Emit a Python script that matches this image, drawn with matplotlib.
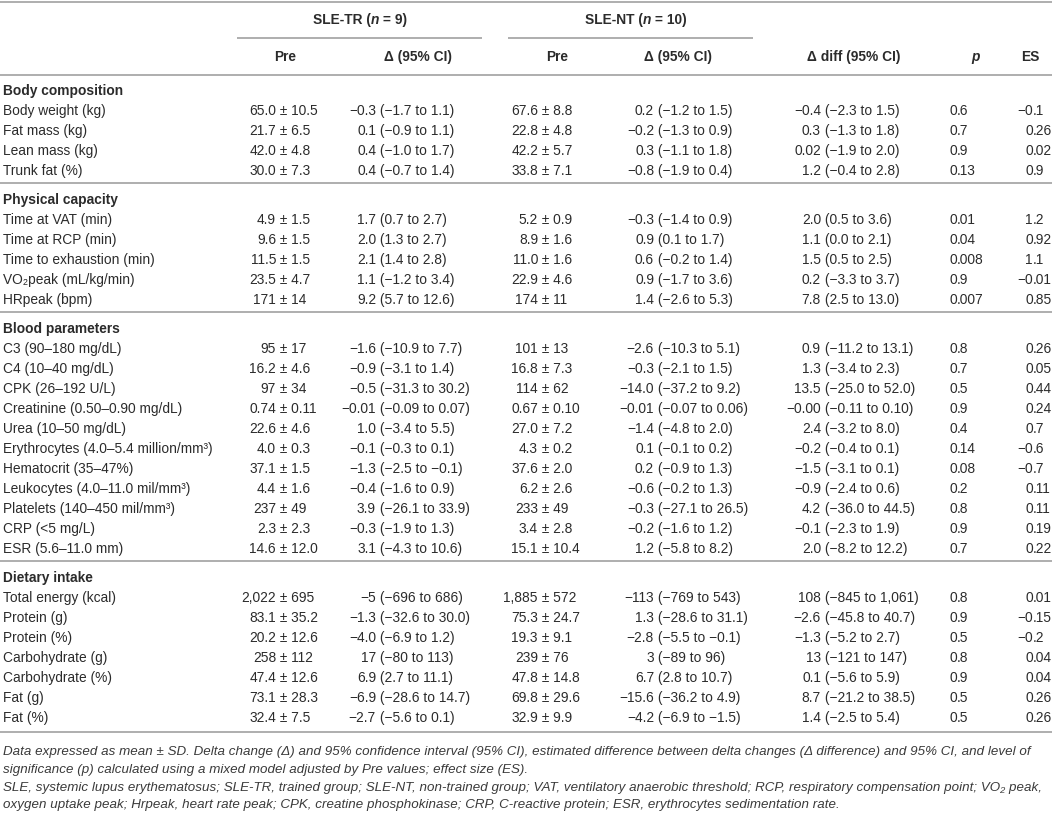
import matplotlib
matplotlib.use("Agg")
import matplotlib.pyplot as plt

plt.rcParams['font.family'] = ['Liberation Sans', 'DejaVu Sans']

# table content
section_names = ["Body composition", "Physical capacity", "Blood parameters", "Dietary intake"]
section_sizes = [4, 5, 11, 7]

labels = [
    "Body weight (kg)", "Fat mass (kg)", "Lean mass (kg)", "Trunk fat (%)",
    "Time at VAT (min)", "Time at RCP (min)", "Time to exhaustion (min)",
    "VO\u2082peak (mL/kg/min)", "HRpeak (bpm)",
    "C3 (90\u2013180 mg/dL)", "C4 (10\u201340 mg/dL)", "CPK (26\u2013192 U/L)",
    "Creatinine (0.50\u20130.90 mg/dL)", "Urea (10\u201350 mg/dL)",
    "Erythrocytes (4.0\u20135.4 million/mm\u00b3)", "Hematocrit (35\u201347%)",
    "Leukocytes (4.0\u201311.0 mil/mm\u00b3)", "Platelets (140\u2013450 mil/mm\u00b3)",
    "CRP (<5 mg/L)", "ESR (5.6\u201311.0 mm)",
    "Total energy (kcal)", "Protein (g)", "Protein (%)", "Carbohydrate (g)",
    "Carbohydrate (%)", "Fat (g)", "Fat (%)",
]

pre_tr = [
    "65.0 ± 10.5", "21.7 ± 6.5", "42.0 ± 4.8", "30.0 ± 7.3",
    "4.9 ± 1.5", "9.6 ± 1.5", "11.5 ± 1.5", "23.5 ± 4.7", "171 ± 14",
    "95 ± 17", "16.2 ± 4.6", "97 ± 34", "0.74 ± 0.11", "22.6 ± 4.6", "4.0 ± 0.3",
    "37.1 ± 1.5", "4.4 ± 1.6", "237 ± 49", "2.3 ± 2.3", "14.6 ± 12.0",
    "2,022 ± 695", "83.1 ± 35.2", "20.2 ± 12.6", "258 ± 112", "47.4 ± 12.6",
    "73.1 ± 28.3", "32.4 ± 7.5",
]

delta_tr = [
    "−0.3 (−1.7 to 1.1)", "0.1 (−0.9 to 1.1)", "0.4 (−1.0 to 1.7)", "0.4 (−0.7 to 1.4)",
    "1.7 (0.7 to 2.7)", "2.0 (1.3 to 2.7)", "2.1 (1.4 to 2.8)", "1.1 (−1.2 to 3.4)",
    "9.2 (5.7 to 12.6)",
    "−1.6 (−10.9 to 7.7)", "−0.9 (−3.1 to 1.4)", "−0.5 (−31.3 to 30.2)",
    "−0.01 (−0.09 to 0.07)", "1.0 (−3.4 to 5.5)", "−0.1 (−0.3 to 0.1)",
    "−1.3 (−2.5 to −0.1)", "−0.4 (−1.6 to 0.9)", "3.9 (−26.1 to 33.9)",
    "−0.3 (−1.9 to 1.3)", "3.1 (−4.3 to 10.6)",
    "−5 (−696 to 686)", "−1.3 (−32.6 to 30.0)", "−4.0 (−6.9 to 1.2)", "17 (−80 to 113)",
    "6.9 (2.7 to 11.1)", "−6.9 (−28.6 to 14.7)", "−2.7 (−5.6 to 0.1)",
]

pre_nt = [
    "67.6 ± 8.8", "22.8 ± 4.8", "42.2 ± 5.7", "33.8 ± 7.1",
    "5.2 ± 0.9", "8.9 ± 1.6", "11.0 ± 1.6", "22.9 ± 4.6", "174 ± 11",
    "101 ± 13", "16.8 ± 7.3", "114 ± 62", "0.67 ± 0.10", "27.0 ± 7.2", "4.3 ± 0.2",
    "37.6 ± 2.0", "6.2 ± 2.6", "233 ± 49", "3.4 ± 2.8", "15.1 ± 10.4",
    "1,885 ± 572", "75.3 ± 24.7", "19.3 ± 9.1", "239 ± 76", "47.8 ± 14.8",
    "69.8 ± 29.6", "32.9 ± 9.9",
]

delta_nt = [
    "0.2 (−1.2 to 1.5)", "−0.2 (−1.3 to 0.9)", "0.3 (−1.1 to 1.8)", "−0.8 (−1.9 to 0.4)",
    "−0.3 (−1.4 to 0.9)", "0.9 (0.1 to 1.7)", "0.6 (−0.2 to 1.4)", "0.9 (−1.7 to 3.6)",
    "1.4 (−2.6 to 5.3)",
    "−2.6 (−10.3 to 5.1)", "−0.3 (−2.1 to 1.5)", "−14.0 (−37.2 to 9.2)",
    "−0.01 (−0.07 to 0.06)", "−1.4 (−4.8 to 2.0)", "0.1 (−0.1 to 0.2)",
    "0.2 (−0.9 to 1.3)", "−0.6 (−0.2 to 1.3)", "−0.3 (−27.1 to 26.5)",
    "−0.2 (−1.6 to 1.2)", "1.2 (−5.8 to 8.2)",
    "−113 (−769 to 543)", "1.3 (−28.6 to 31.1)", "−2.8 (−5.5 to −0.1)", "3 (−89 to 96)",
    "6.7 (2.8 to 10.7)", "−15.6 (−36.2 to 4.9)", "−4.2 (−6.9 to −1.5)",
]

delta_diff = [
    "−0.4 (−2.3 to 1.5)", "0.3 (−1.3 to 1.8)", "0.02 (−1.9 to 2.0)", "1.2 (−0.4 to 2.8)",
    "2.0 (0.5 to 3.6)", "1.1 (0.0 to 2.1)", "1.5 (0.5 to 2.5)", "0.2 (−3.3 to 3.7)",
    "7.8 (2.5 to 13.0)",
    "0.9 (−11.2 to 13.1)", "1.3 (−3.4 to 2.3)", "13.5 (−25.0 to 52.0)",
    "−0.00 (−0.11 to 0.10)", "2.4 (−3.2 to 8.0)", "−0.2 (−0.4 to 0.1)",
    "−1.5 (−3.1 to 0.1)", "−0.9 (−2.4 to 0.6)", "4.2 (−36.0 to 44.5)",
    "−0.1 (−2.3 to 1.9)", "2.0 (−8.2 to 12.2)",
    "108 (−845 to 1,061)", "−2.6 (−45.8 to 40.7)", "−1.3 (−5.2 to 2.7)", "13 (−121 to 147)",
    "0.1 (−5.6 to 5.9)", "8.7 (−21.2 to 38.5)", "1.4 (−2.5 to 5.4)",
]

p_vals = [
    "0.6", "0.7", "0.9", "0.13",
    "0.01", "0.04", "0.008", "0.9", "0.007",
    "0.8", "0.7", "0.5", "0.9", "0.4", "0.14", "0.08", "0.2", "0.8", "0.9", "0.7",
    "0.8", "0.9", "0.5", "0.8", "0.9", "0.5", "0.5",
]

es_vals = [
    "−0.1", "0.26", "0.02", "0.9",
    "1.2", "0.92", "1.1", "−0.01", "0.85",
    "0.26", "0.05", "0.44", "0.24", "0.7", "−0.6", "−0.7", "0.11", "0.11", "0.19", "0.22",
    "0.01", "−0.15", "−0.2", "0.04", "0.04", "0.26", "0.26",
]

footnotes = [
    "Data expressed as mean ± SD. Delta change (Δ) and 95% confidence interval (95% CI), "
    "estimated difference between delta changes (Δ difference) and 95% CI, and level of",
    "significance (p) calculated using a mixed model adjusted by Pre values; effect size (ES).",
    "SLE, systemic lupus erythematosus; SLE-TR, trained group; SLE-NT, non-trained group; "
    "VAT, ventilatory anaerobic threshold; RCP, respiratory compensation point; VO\u2082 peak,",
    "oxygen uptake peak; Hrpeak, heart rate peak; CPK, creatine phosphokinase; "
    "CRP, C-reactive protein; ESR, erythrocytes sedimentation rate.",
]

W, H = 1055, 817
FS = 9.9
TXT = "#2b2b2b"
RULE = "#a8a8a8"

fig = plt.figure(figsize=(W / 100, H / 100), dpi=100)
ax = fig.add_axes([0, 0, 1, 1])
ax.set_xlim(0, W)
ax.set_ylim(H, 0)
ax.axis("off")
renderer = fig.canvas.get_renderer()


def rule(y, x0=0, x1=1052):
    ax.plot([x0, x1], [y, y], color=RULE, lw=1.3, solid_capstyle="butt")


def rich(x, y, pieces):
    # pieces of (text, italic) in bold, centred on x
    items = []
    for s, it in pieces:
        t = ax.text(0, y, s, ha="left", va="center", fontsize=FS, color=TXT,
                    fontweight="bold", fontstyle="italic" if it else "normal")
        items.append((t, t.get_window_extent(renderer=renderer).width))
    start = x - sum(w for _, w in items) / 2
    for t, w in items:
        t.set_x(start)
        start += w


def split_text(x, y, s, i):
    ax.text(x, y, s[:i], ha="right", va="center", fontsize=FS, color=TXT)
    ax.text(x, y, s[i:], ha="left", va="center", fontsize=FS, color=TXT)


def first_right(x, y, s):
    # first number right-aligned on x, the rest follows
    split_text(x, y, s, s.index(" "))


def dec(x, y, s):
    # aligned on the decimal point
    split_text(x, y, s, s.index("."))


# header
rule(2)
rich(360, 20, [("SLE-TR (", False), ("n", True), (" = 9)", False)])
rich(636, 20, [("SLE-NT (", False), ("n", True), (" = 10)", False)])
rule(38, 237, 482)
rule(38, 508, 753)
for x, s in [(285, "Pre"), (418, "Δ (95% CI)"), (557, "Pre"), (678, "Δ (95% CI)"),
             (854, "Δ diff (95% CI)"), (1030, "ES")]:
    ax.text(x, 57, s, ha="center", va="center", fontsize=FS, color=TXT, fontweight="bold")
ax.text(975, 57, "p", ha="center", va="center", fontsize=FS, color=TXT,
        fontweight="bold", fontstyle="italic")
rule(75)

right_cols = [(276, pre_tr), (376, delta_tr), (538, pre_nt), (654, delta_nt), (821, delta_diff)]
dec_cols = [(957, p_vals), (1033, es_vals)]

y = 91
row = 0
for si, (name, n) in enumerate(zip(section_names, section_sizes)):
    ax.text(3, y, name, ha="left", va="center", fontsize=FS, color=TXT, fontweight="bold")
    for k in range(n):
        y += 20
        ax.text(3, y, labels[row], ha="left", va="center", fontsize=FS, color=TXT)
        for x, col in right_cols:
            first_right(x, y, col[row])
        for x, col in dec_cols:
            dec(x, y, col[row])
        row += 1
    if si == len(section_names) - 1:
        rule(y + 14)
    else:
        y += 12
        rule(y)
        y += 17

# footnote, sized so the longest line fills the width
probe = ax.text(0, 0, footnotes[2], fontsize=10, fontstyle="italic")
fn_size = 10 * 1036 / probe.get_window_extent(renderer=renderer).width
probe.remove()
for fy, line in zip([752, 770, 788, 805], footnotes):
    ax.text(3, fy, line, ha="left", va="center", fontsize=fn_size,
            color="#3a3a3a", fontstyle="italic")

fig.savefig("out.png", dpi=100)
